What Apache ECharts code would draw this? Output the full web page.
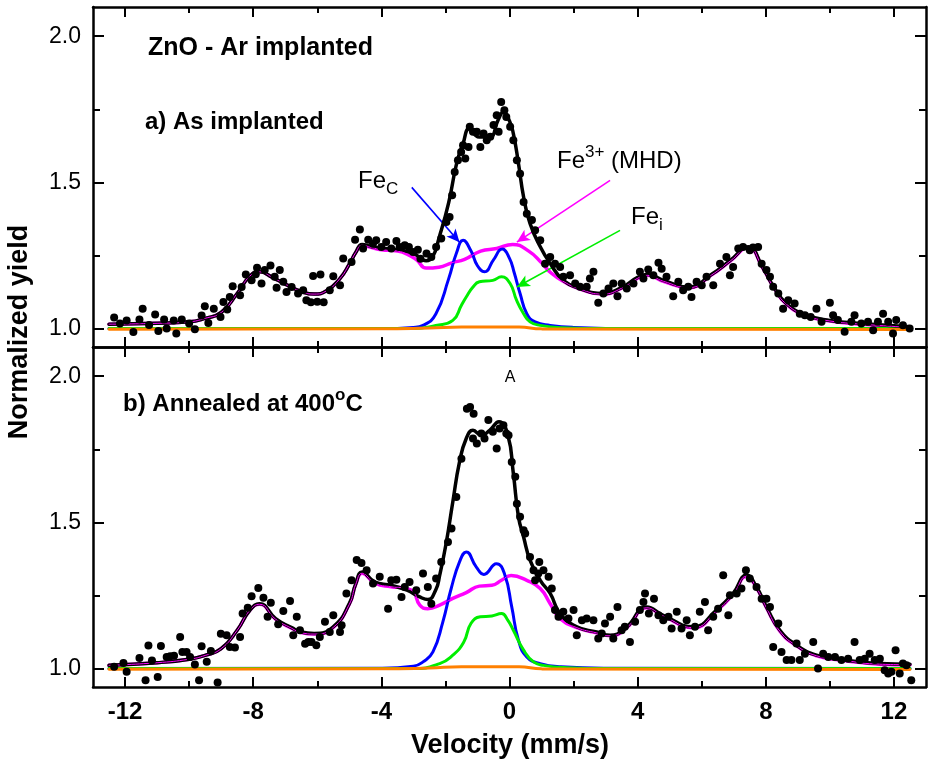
<!DOCTYPE html>
<html>
<head>
<meta charset="utf-8">
<script src="https://cdn.jsdelivr.net/npm/echarts@6/dist/echarts.min.js"></script>
<style>
html, body { margin: 0; padding: 0; background: #fff; }
#chart { width: 928px; height: 763px; }
</style>
</head>
<body>
<div id="chart"></div>
<script>
// ticks
const xMajorTicks = [-12, -8, -4, 0, 4, 8, 12]
const xMinorTicks = [-10, -6, -2, 2, 6, 10]
const yMajorTicks = [1.0, 1.5, 2.0]
const yMinorTicks = [1.25, 1.75]

// a) as implanted  [velocity, yield]
const dotsA = [[-12.34,1.038],[-12.16,1.017],[-11.95,1.028],[-11.74,0.988],[-11.55,1.031],[-11.45,1.068],[-11.25,1.012],[-11.06,1.048],[-10.96,0.992],[-10.78,1.031],[-10.7,1.0],[-10.48,1.028],[-10.4,0.983],[-10.23,1.031],[-10.0,1.017],[-9.82,0.998],[-9.61,1.045],[-9.51,1.076],[-9.4,1.019],[-9.23,1.068],[-9.02,1.04],[-8.93,1.091],[-8.81,1.065],[-8.73,1.108],[-8.64,1.145],[-8.41,1.114],[-8.36,1.142],[-8.23,1.185],[-8.05,1.165],[-7.92,1.186],[-7.88,1.208],[-7.74,1.154],[-7.64,1.2],[-7.46,1.216],[-7.33,1.177],[-7.27,1.14],[-7.17,1.2],[-7.06,1.16],[-6.96,1.125],[-6.8,1.142],[-6.6,1.12],[-6.44,1.131],[-6.34,1.097],[-6.2,1.09],[-6.13,1.18],[-6.0,1.092],[-5.9,1.185],[-5.8,1.09],[-5.61,1.131],[-5.5,1.179],[-5.29,1.148],[-5.19,1.24],[-4.93,1.228],[-4.82,1.304],[-4.67,1.339],[-4.57,1.274],[-4.41,1.304],[-4.26,1.29],[-4.16,1.302],[-4.0,1.279],[-3.85,1.296],[-3.69,1.274],[-3.53,1.3],[-3.43,1.279],[-3.27,1.285],[-3.14,1.279],[-3.01,1.262],[-2.86,1.27],[-2.78,1.239],[-2.59,1.257],[-2.44,1.245],[-2.29,1.279],[-2.13,1.308],[-1.97,1.365],[-1.87,1.382],[-1.79,1.456],[-1.71,1.536],[-1.61,1.576],[-1.51,1.604],[-1.45,1.627],[-1.38,1.582],[-1.28,1.621],[-1.24,1.69],[-1.14,1.673],[-1.02,1.673],[-0.91,1.621],[-0.81,1.667],[-0.71,1.644],[-0.6,1.656],[-0.5,1.696],[-0.4,1.73],[-0.34,1.673],[-0.26,1.775],[-0.16,1.747],[-0.1,1.724],[0.02,1.69],[0.12,1.644],[0.23,1.576],[0.33,1.53],[0.44,1.433],[0.54,1.393],[0.7,1.371],[0.8,1.336],[0.96,1.302],[1.11,1.222],[1.27,1.245],[1.42,1.222],[1.58,1.211],[1.68,1.177],[1.89,1.182],[2.05,1.154],[2.2,1.143],[2.41,1.143],[2.51,1.171],[2.62,1.194],[2.77,1.088],[2.93,1.12],[3.09,1.137],[3.24,1.154],[3.37,1.111],[3.5,1.154],[3.66,1.137],[3.87,1.154],[4.07,1.194],[4.18,1.171],[4.33,1.202],[4.49,1.182],[4.65,1.225],[4.75,1.205],[4.9,1.177],[5.11,1.111],[5.27,1.16],[5.42,1.131],[5.58,1.143],[5.68,1.108],[5.84,1.16],[6.0,1.148],[6.15,1.177],[6.36,1.148],[6.57,1.222],[6.77,1.245],[6.88,1.182],[6.98,1.211],[7.14,1.274],[7.29,1.279],[7.5,1.268],[7.6,1.277],[7.76,1.279],[7.87,1.222],[8.02,1.2],[8.13,1.177],[8.23,1.143],[8.39,1.12],[8.54,1.068],[8.7,1.097],[8.9,1.086],[9.06,1.051],[9.22,1.046],[9.4,1.04],[9.58,1.068],[9.74,1.023],[10.0,1.088],[10.1,1.046],[10.25,1.029],[10.46,0.989],[10.67,1.023],[10.77,1.046],[10.98,1.017],[11.19,1.023],[11.35,0.994],[11.5,1.023],[11.66,1.051],[11.82,1.023],[11.97,0.983],[12.07,1.029],[12.28,1.011],[12.49,1.0]]
const fitA = [[-12.5,1.015],[-11,1.018],[-10,1.023],[-9.5,1.035],[-9,1.055],[-8.5,1.12],[-8.1,1.18],[-7.8,1.194],[-7.4,1.175],[-7,1.152],[-6.5,1.127],[-6.1,1.118],[-5.7,1.13],[-5.3,1.17],[-5,1.22],[-4.8,1.26],[-4.6,1.288],[-4.3,1.28],[-4,1.275],[-3.5,1.27],[-3,1.257],[-2.6,1.232],[-2.4,1.245],[-2.2,1.31],[-1.9,1.43],[-1.65,1.565],[-1.45,1.633],[-1.25,1.684],[-0.95,1.655],[-0.62,1.655],[-0.35,1.715],[-0.19,1.741],[0.0,1.71],[0.12,1.667],[0.28,1.565],[0.44,1.45],[0.64,1.36],[0.96,1.28],[1.27,1.223],[1.68,1.165],[2.2,1.137],[2.9,1.12],[3.5,1.14],[4.0,1.175],[4.3,1.185],[4.8,1.165],[5.6,1.142],[6.3,1.185],[6.9,1.234],[7.45,1.28],[7.9,1.21],[8.25,1.142],[8.65,1.085],[9.3,1.045],[10,1.028],[11,1.017],[12.5,1.006]]
const mhdA = [[-12.5,1.015],[-11,1.018],[-10,1.023],[-9.5,1.035],[-9,1.055],[-8.5,1.12],[-8.1,1.18],[-7.8,1.194],[-7.4,1.175],[-7,1.152],[-6.5,1.127],[-6.1,1.118],[-5.7,1.13],[-5.3,1.17],[-5,1.22],[-4.8,1.26],[-4.6,1.285],[-4.3,1.277],[-4,1.27],[-3.5,1.265],[-3.2,1.255],[-2.9,1.235],[-2.6,1.207],[-2.2,1.21],[-1.8,1.225],[-1.4,1.237],[-0.9,1.265],[-0.4,1.274],[0.1,1.288],[0.6,1.265],[1.0,1.225],[1.3,1.19],[1.7,1.16],[2.2,1.135],[2.9,1.118],[3.5,1.138],[4.0,1.172],[4.3,1.182],[4.8,1.162],[5.6,1.14],[6.3,1.183],[6.9,1.232],[7.45,1.277],[7.9,1.208],[8.25,1.14],[8.65,1.083],[9.3,1.043],[10,1.026],[11,1.015],[12.5,1.004]]
const fecA = [[-12.5,1.0],[-4,1.0],[-3,1.004],[-2.7,1.011],[-2.3,1.05],[-1.9,1.17],[-1.65,1.26],[-1.45,1.302],[-1.2,1.265],[-1.0,1.215],[-0.78,1.194],[-0.5,1.235],[-0.23,1.272],[0.0,1.24],[0.15,1.19],[0.33,1.12],[0.54,1.051],[0.8,1.023],[1.27,1.011],[2,1.004],[4,1.0],[12.5,1.0]]
const feiA = [[-12.5,1.0],[-3,1.0],[-2.3,1.011],[-1.77,1.028],[-1.5,1.08],[-1.35,1.108],[-1.14,1.142],[-0.94,1.16],[-0.52,1.165],[-0.25,1.177],[0.02,1.154],[0.22,1.097],[0.44,1.051],[0.64,1.023],[0.96,1.011],[1.6,1.003],[3,1.0],[12.5,1.0]]
const bgA = [[-12.5,0.998],[-4,0.999],[-2.5,1.002],[-1.5,1.005],[0.3,1.005],[1.0,0.999],[12.5,0.997]]

// b) annealed at 400 C
const dotsB = [[-12.34,1.006],[-12.05,1.019],[-11.95,0.989],[-11.69,0.93],[-11.55,1.036],[-11.36,0.96],[-11.27,1.079],[-11.16,1.028],[-10.98,0.971],[-10.88,1.077],[-10.7,1.04],[-10.59,1.042],[-10.47,1.044],[-10.28,1.108],[-10.21,1.057],[-10.08,1.057],[-9.97,1.04],[-9.82,1.014],[-9.69,0.96],[-9.61,1.076],[-9.45,1.023],[-9.32,1.06],[-9.11,0.952],[-9.01,1.119],[-8.83,1.114],[-8.73,1.074],[-8.57,1.072],[-8.41,1.108],[-8.33,1.188],[-8.17,1.208],[-8.05,1.247],[-7.84,1.276],[-7.68,1.242],[-7.55,1.177],[-7.45,1.225],[-7.22,1.152],[-7.06,1.197],[-6.85,1.231],[-6.75,1.114],[-6.64,1.177],[-6.54,1.131],[-6.38,1.085],[-6.28,1.091],[-6.18,1.091],[-6.03,1.08],[-5.92,1.108],[-5.76,1.16],[-5.61,1.125],[-5.5,1.182],[-5.29,1.125],[-5.24,1.148],[-5.09,1.257],[-4.93,1.302],[-4.77,1.371],[-4.62,1.361],[-4.46,1.336],[-4.26,1.291],[-4.05,1.314],[-3.79,1.205],[-3.69,1.302],[-3.53,1.304],[-3.37,1.245],[-3.27,1.279],[-3.12,1.296],[-2.91,1.268],[-2.7,1.325],[-2.55,1.279],[-2.44,1.222],[-2.29,1.308],[-2.13,1.365],[-1.92,1.433],[-1.81,1.479],[-1.66,1.587],[-1.5,1.718],[-1.33,1.889],[-1.23,1.895],[-1.14,1.787],[-1.12,1.872],[-1.02,1.77],[-0.88,1.804],[-0.78,1.787],[-0.66,1.85],[-0.52,1.81],[-0.4,1.753],[-0.31,1.821],[-0.19,1.832],[-0.1,1.804],[-0.03,1.798],[0.07,1.707],[0.18,1.656],[0.23,1.564],[0.33,1.519],[0.44,1.473],[0.49,1.462],[0.64,1.382],[0.75,1.336],[0.8,1.302],[0.9,1.325],[0.93,1.365],[1.06,1.336],[1.22,1.314],[1.32,1.274],[1.42,1.2],[1.53,1.177],[1.68,1.194],[1.84,1.171],[2.0,1.2],[2.1,1.114],[2.26,1.165],[2.41,1.171],[2.62,1.165],[2.77,1.103],[2.88,1.12],[2.98,1.154],[3.14,1.177],[3.24,1.103],[3.37,1.211],[3.5,1.131],[3.6,1.143],[3.76,1.091],[3.92,1.16],[4.07,1.2],[4.18,1.228],[4.23,1.257],[4.35,1.188],[4.51,1.239],[4.65,1.182],[4.8,1.165],[4.96,1.177],[5.06,1.137],[5.22,1.194],[5.37,1.137],[5.53,1.165],[5.63,1.114],[5.79,1.143],[5.94,1.194],[6.1,1.228],[6.2,1.131],[6.36,1.177],[6.51,1.205],[6.67,1.319],[6.83,1.182],[6.88,1.251],[7.09,1.257],[7.24,1.274],[7.38,1.336],[7.5,1.308],[7.71,1.279],[7.87,1.239],[8.02,1.239],[8.13,1.211],[8.23,1.074],[8.39,1.154],[8.49,1.057],[8.65,1.029],[8.8,1.029],[8.96,1.086],[9.06,1.029],[9.22,1.051],[9.48,1.091],[9.63,1.0],[9.79,1.051],[9.95,1.04],[10.16,1.04],[10.36,1.029],[10.57,1.034],[10.77,1.091],[10.93,1.029],[11.09,1.034],[11.24,1.051],[11.4,1.029],[11.56,1.034],[11.71,0.994],[11.82,0.983],[11.92,0.989],[12.05,1.063],[12.18,0.983],[12.28,1.017],[12.39,1.011],[12.54,0.96]]
const fitB = [[-12.5,1.011],[-11,1.02],[-10,1.032],[-9.5,1.045],[-9,1.068],[-8.5,1.131],[-8.1,1.2],[-7.8,1.222],[-7.3,1.171],[-6.8,1.14],[-6.5,1.125],[-6.1,1.12],[-5.5,1.143],[-5,1.222],[-4.8,1.29],[-4.6,1.33],[-4.2,1.296],[-3.7,1.285],[-3.2,1.268],[-2.8,1.245],[-2.55,1.236],[-2.3,1.27],[-2.18,1.319],[-1.97,1.433],[-1.77,1.57],[-1.56,1.707],[-1.35,1.787],[-1.14,1.815],[-0.88,1.798],[-0.62,1.815],[-0.33,1.844],[-0.05,1.798],[0.12,1.667],[0.28,1.519],[0.44,1.45],[0.64,1.371],[0.96,1.302],[1.27,1.257],[1.58,1.188],[2.1,1.143],[2.72,1.125],[3.14,1.114],[3.66,1.143],[4.28,1.211],[4.8,1.182],[5.74,1.143],[6.46,1.2],[6.98,1.257],[7.4,1.32],[7.71,1.279],[8.02,1.211],[8.44,1.131],[8.96,1.08],[9.58,1.046],[10.5,1.029],[11.55,1.017],[12.5,1.015]]
const mhdB = [[-12.5,1.011],[-11,1.02],[-10,1.032],[-9.5,1.045],[-9,1.068],[-8.5,1.131],[-8.1,1.2],[-7.8,1.22],[-7.3,1.169],[-6.8,1.138],[-6.5,1.123],[-6.1,1.118],[-5.5,1.141],[-5,1.22],[-4.8,1.288],[-4.6,1.326],[-4.2,1.292],[-3.7,1.28],[-3.3,1.275],[-3.0,1.262],[-2.8,1.217],[-2.55,1.205],[-2.18,1.217],[-1.77,1.24],[-1.35,1.26],[-0.94,1.282],[-0.55,1.285],[-0.25,1.302],[0.05,1.318],[0.54,1.302],[0.96,1.274],[1.27,1.222],[1.58,1.171],[2.1,1.14],[2.72,1.122],[3.14,1.112],[3.66,1.14],[4.28,1.208],[4.8,1.18],[5.74,1.14],[6.46,1.197],[6.98,1.254],[7.4,1.316],[7.71,1.276],[8.02,1.208],[8.44,1.128],[8.96,1.078],[9.58,1.044],[10.5,1.027],[11.55,1.015],[12.5,1.013]]
const fecB = [[-12.5,1.0],[-4,1.001],[-3,1.008],[-2.7,1.023],[-2.39,1.057],[-2.08,1.16],[-1.82,1.274],[-1.56,1.365],[-1.35,1.399],[-1.04,1.348],[-0.8,1.322],[-0.41,1.359],[-0.15,1.322],[0.07,1.211],[0.28,1.097],[0.54,1.04],[0.96,1.017],[1.6,1.006],[3,1.001],[12.5,1.0]]
const feiB = [[-12.5,1.0],[-3,1.0],[-2.18,1.017],[-1.77,1.046],[-1.43,1.09],[-1.2,1.155],[-0.91,1.177],[-0.55,1.18],[-0.25,1.188],[-0.05,1.165],[0.12,1.131],[0.44,1.063],[0.75,1.023],[1.06,1.011],[1.8,1.003],[3,1.0],[12.5,1.0]]
const bgB = [[-12.5,0.998],[-4,0.999],[-2.5,1.002],[-1.5,1.006],[0.3,1.006],[1.0,0.999],[12.5,0.997]]

// annotation arrows, [from, to] in data coords of panel a
const arrowFeC = [[-3.05, 1.483], [-1.56, 1.295]]
const arrowMHD = [[3.14, 1.507], [0.23, 1.296]]
const arrowFei = [[3.45, 1.336], [0.23, 1.142]]

const FONT = '"Liberation Sans", Arial, Helvetica, sans-serif'
const tickStyle = { color: '#000', width: 2 }

function xAxes (g) {
  const base = {
    type: 'value', gridIndex: g, min: -13, max: 13,
    splitLine: { show: false },
    axisLine: { show: true, onZero: false, lineStyle: { color: '#000', width: 2.5 } },
    axisLabel: { show: false }
  }
  return [
    Object.assign({}, base, {
      position: 'bottom',
      axisTick: { inside: true, length: 10, customValues: xMajorTicks, lineStyle: tickStyle },
      axisLabel: g === 1
        ? { show: true, customValues: xMajorTicks, color: '#000', fontFamily: FONT, fontWeight: 'bold', fontSize: 24, margin: 13 }
        : { show: false }
    }),
    Object.assign({}, base, {
      position: 'top',
      axisTick: { inside: true, length: 10, customValues: xMajorTicks, lineStyle: tickStyle }
    }),
    Object.assign({}, base, {
      position: 'bottom', axisLine: { show: false, onZero: false },
      axisTick: { inside: true, length: 6, customValues: xMinorTicks, lineStyle: tickStyle }
    }),
    Object.assign({}, base, {
      position: 'top', axisLine: { show: false, onZero: false },
      axisTick: { inside: true, length: 6, customValues: xMinorTicks, lineStyle: tickStyle }
    })
  ]
}

function yAxes (g) {
  const base = {
    type: 'value', gridIndex: g, min: 0.937, max: 2.1,
    splitLine: { show: false },
    axisLine: { show: true, onZero: false, lineStyle: { color: '#000', width: 2.5 } },
    axisLabel: { show: false }
  }
  return [
    Object.assign({}, base, {
      position: 'left',
      axisTick: { inside: true, length: 11, customValues: yMajorTicks, lineStyle: tickStyle },
      axisLabel: {
        show: true, customValues: yMajorTicks, color: '#000', fontFamily: FONT, fontSize: 23, margin: 12,
        formatter: v => v.toFixed(1)
      }
    }),
    Object.assign({}, base, {
      position: 'right',
      axisTick: { inside: true, length: 11, customValues: yMajorTicks, lineStyle: tickStyle }
    }),
    Object.assign({}, base, {
      position: 'left', axisLine: { show: false, onZero: false },
      axisTick: { inside: true, length: 7, customValues: yMinorTicks, lineStyle: tickStyle }
    }),
    Object.assign({}, base, {
      position: 'right', axisLine: { show: false, onZero: false },
      axisTick: { inside: true, length: 7, customValues: yMinorTicks, lineStyle: tickStyle }
    })
  ]
}

function panelSeries (g, dots, fit, mhd, fec, fei, bg) {
  const idx = g * 4
  const line = (data, color, width, z) => ({
    type: 'line', xAxisIndex: idx, yAxisIndex: idx, data: data,
    symbol: 'none', showSymbol: false, smooth: 0.5,
    lineStyle: { color: color, width: width, cap: 'round', join: 'round' }, z: z, silent: true
  })
  return [
    line(mhd, '#ff00ff', 3.5, 2),
    line(fec, '#0000ff', 3, 3),
    line(fei, '#00ee00', 3, 4),
    line(bg, '#ff8000', 3, 5),
    line(fit, '#000000', 3.5, 6),
    line(mhd, '#ff00ff', 1, 7),
    {
      type: 'scatter', xAxisIndex: idx, yAxisIndex: idx, data: dots,
      symbol: 'circle', symbolSize: 8, itemStyle: { color: '#000', opacity: 1 }, z: 8, silent: true
    }
  ]
}

function arrow (pts, color) {
  return [
    { coord: pts[0], lineStyle: { color: color, width: 1.6, type: 'solid' } },
    { coord: pts[1] }
  ]
}

const series = panelSeries(0, dotsA, fitA, mhdA, fecA, feiA, bgA)
  .concat(panelSeries(1, dotsB, fitB, mhdB, fecB, feiB, bgB))

// arrows live on the top panel's fit line
series[4].markLine = {
  silent: true, symbol: ['none', 'arrow'], symbolSize: [9, 13],
  label: { show: false }, animation: false,
  data: [arrow(arrowFeC, '#0000ff'), arrow(arrowMHD, '#ff00ff'), arrow(arrowFei, '#00ee00')]
}

const rich = {
  m: { fontFamily: FONT, fontSize: 24, color: '#000', lineHeight: 34 },
  sup: { fontFamily: FONT, fontSize: 17, color: '#000', lineHeight: 17, verticalAlign: 'top' },
  sub: { fontFamily: FONT, fontSize: 17, color: '#000', lineHeight: 17, verticalAlign: 'bottom' },
  b: { fontFamily: FONT, fontSize: 24, fontWeight: 'bold', color: '#000', lineHeight: 34 },
  bsup: { fontFamily: FONT, fontSize: 17, fontWeight: 'bold', color: '#000', lineHeight: 17, verticalAlign: 'top' }
}

function label (x, y, text) {
  return {
    type: 'text', x: x, y: y, silent: true,
    style: { text: text, rich: rich, align: 'left', verticalAlign: 'middle' }
  }
}

const option = {
  animation: false,
  backgroundColor: '#fff',
  grid: [
    { left: 93, right: 2, top: 7, height: 340 },
    { left: 93, right: 2, top: 347, height: 340 }
  ],
  xAxis: xAxes(0).concat(xAxes(1)),
  yAxis: yAxes(0).concat(yAxes(1)),
  series: series,
  graphic: [
    { type: 'text', x: 148, y: 48, silent: true,
      style: { text: 'ZnO - Ar implanted', font: 'bold 25px ' + FONT, fill: '#000', align: 'left', verticalAlign: 'middle' } },
    { type: 'text', x: 145, y: 122, silent: true,
      style: { text: 'a) As implanted', font: 'bold 24px ' + FONT, fill: '#000', align: 'left', verticalAlign: 'middle' } },
    label(123, 404, '{b|b) Annealed at 400}{bsup|o}{b|C}'),
    label(358, 181, '{m|Fe}{sub|C}'),
    label(557, 161, '{m|Fe}{sup|3+}{m| (MHD)}'),
    label(631, 217, '{m|Fe}{sub|i}'),
    { type: 'text', x: 510, y: 378, silent: true,
      style: { text: 'A', font: '16px ' + FONT, fill: '#000', align: 'center', verticalAlign: 'middle' } },
    { type: 'text', x: 20, y: 332, rotation: Math.PI / 2, silent: true,
      style: { text: 'Normalized yield', font: 'bold 27px ' + FONT, fill: '#000', align: 'center', verticalAlign: 'middle' } },
    { type: 'text', x: 510, y: 746, silent: true,
      style: { text: 'Velocity (mm/s)', font: 'bold 27px ' + FONT, fill: '#000', align: 'center', verticalAlign: 'middle' } }
  ]
}

const chart = echarts.init(document.getElementById('chart'))
chart.setOption(option)
</script>
</body>
</html>
